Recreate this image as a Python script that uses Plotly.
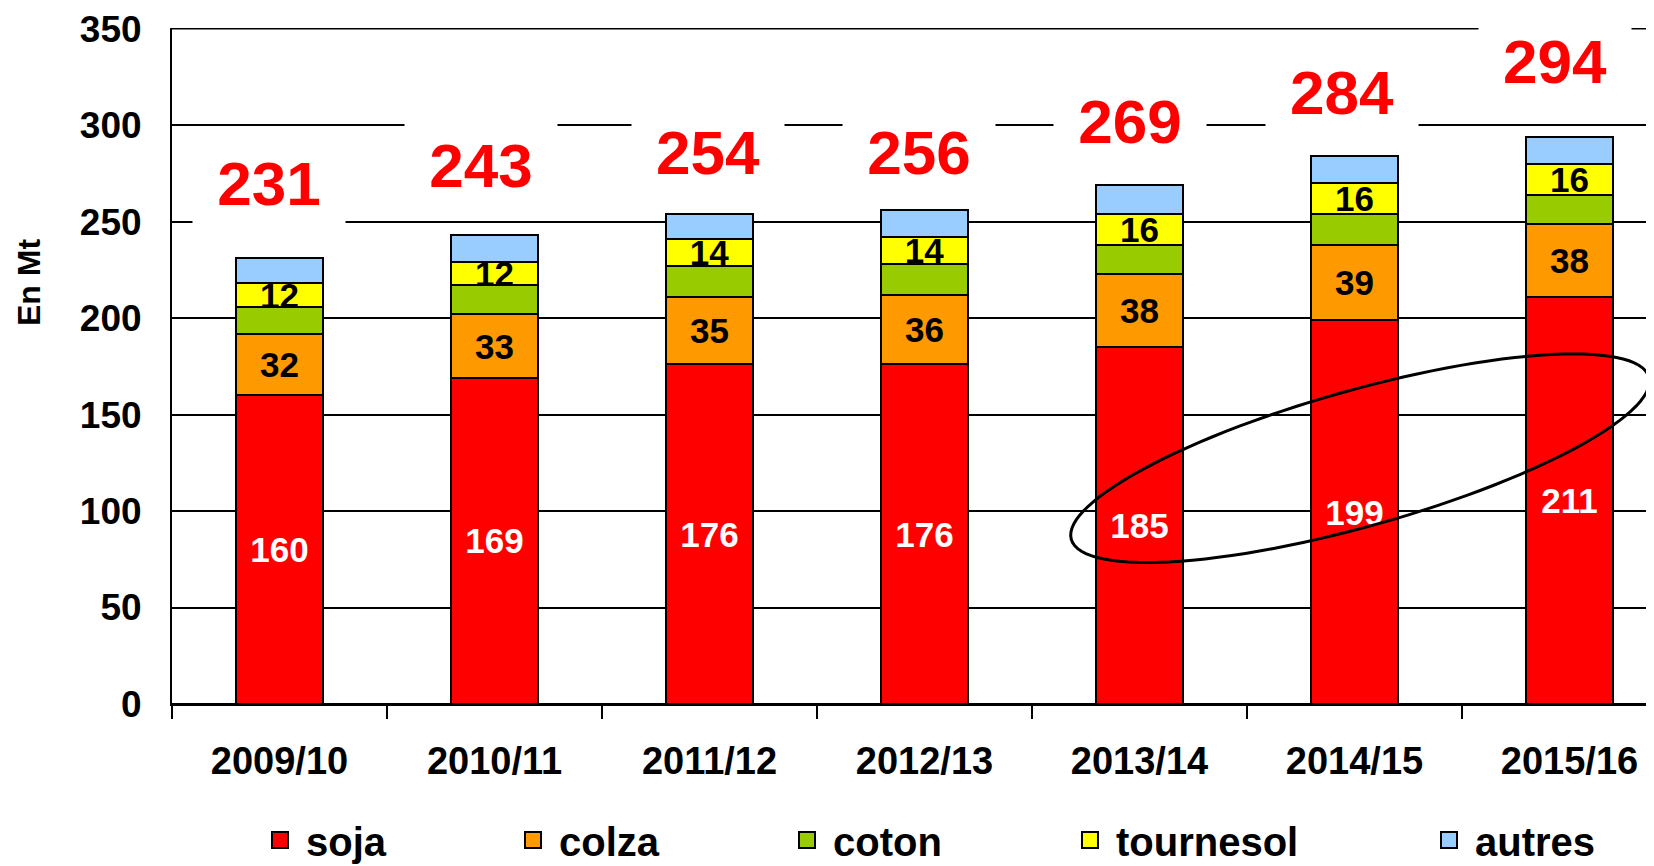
import math
import plotly.graph_objects as go

# ---------------- data ----------------
categories = ["2009/10", "2010/11", "2011/12", "2012/13", "2013/14", "2014/15", "2015/16"]
soja = [160, 169, 176, 176, 185, 199, 211]
colza = [32, 33, 35, 36, 38, 39, 38]
coton = [14, 15, 16, 16, 15, 16, 15]
tournesol = [12, 12, 14, 14, 16, 16, 16]
autres = [13, 14, 13, 14, 15, 14, 14]
totals = [231, 243, 254, 256, 269, 284, 294]
y_ticks = [0, 50, 100, 150, 200, 250, 300, 350]

series_names = ["soja", "colza", "coton", "tournesol", "autres"]

# ---------------- styles / layout positions ----------------
PAGE_OFF = 8                      # default page margin around the figure
WIN_W, WIN_H = 1654, 866
W, H = WIN_W - PAGE_OFF, WIN_H - PAGE_OFF
PLOT_LEFT_WIN, PLOT_TOP_WIN, PLOT_BOTTOM_WIN = 172, 28, 704
ML = PLOT_LEFT_WIN - PAGE_OFF
MT = PLOT_TOP_WIN - PAGE_OFF
MB = H - (PLOT_BOTTOM_WIN - PAGE_OFF)
MR = 0
PW, PH = W - ML - MR, H - MT - MB
BAND = 215.0
X_RANGE = [-0.5, -0.5 + PW / BAND]
Y_RANGE = [0, 350.4]

colors = {"soja": "#FF0000", "colza": "#FF9900", "coton": "#99CC00",
          "tournesol": "#FFFF00", "autres": "#99CCFF"}
FONT = "Liberation Sans, Arial, sans-serif"

# total labels: vertical lift (data units) and horizontal nudge (px)
total_lift = [39, 36, 32, 30, 33, 33, 39]
total_xshift = [-11, -14, -2, -6, -10, -13, -15]

# legend text start positions (window px)
legend_text_px = [306, 559, 833, 1116, 1475]
LEGEND_Y_PX = 840
LEGEND_ITEMWIDTH = 42
LEGEND_TEXT_OFFSET = 52


def px_to_paper_x(px):
    return (px - PLOT_LEFT_WIN) / PW


def px_to_paper_y(py):
    return (PLOT_BOTTOM_WIN - py) / PH


fig = go.Figure()

series_values = [soja, colza, coton, tournesol, autres]
labelled = {"soja": "white", "colza": "black", "tournesol": "black"}
for name, vals in zip(series_names, series_values):
    kw = {}
    if name in labelled:
        kw = dict(text=vals, texttemplate="%{text}", textposition="inside",
                  insidetextanchor="middle", constraintext="none", textangle=0,
                  textfont=dict(family=FONT, size=35, color=labelled[name], weight="bold"))
    fig.add_trace(go.Bar(
        x=categories, y=vals, name=name, showlegend=False,
        marker=dict(color=colors[name], line=dict(color="black", width=2)),
        hoverinfo="skip", **kw))

# legend entries (one legend per entry so they can be spaced like the original)
for i, name in enumerate(series_names):
    lg = "legend" if i == 0 else f"legend{i + 1}"
    fig.add_trace(go.Scatter(
        x=[None], y=[None], mode="markers", name=name, legend=lg, showlegend=True,
        marker=dict(symbol="square", size=16, color=colors[name],
                    line=dict(color="black", width=2))))

legend_layouts = {}
for i, name in enumerate(series_names):
    key = "legend" if i == 0 else f"legend{i + 1}"
    legend_layouts[key] = dict(
        x=px_to_paper_x(legend_text_px[i] - LEGEND_TEXT_OFFSET), xanchor="left",
        y=px_to_paper_y(LEGEND_Y_PX), yanchor="middle",
        orientation="h", bgcolor="rgba(0,0,0,0)", borderwidth=0,
        font=dict(family=FONT, size=40, color="black", weight="bold"),
        itemwidth=LEGEND_ITEMWIDTH)

# total labels
annotations = []
for i, cat in enumerate(categories):
    annotations.append(dict(
        x=cat, y=totals[i] + total_lift[i], xref="x", yref="y",
        text=str(totals[i]), showarrow=False, xshift=total_xshift[i],
        font=dict(family=FONT, size=62, color="#FF0000", weight="bold"),
        bgcolor="white", width=132, borderpad=10))

# y-axis title
annotations.append(dict(
    x=px_to_paper_x(29), y=px_to_paper_y(283), xref="paper", yref="paper",
    xanchor="center", yanchor="middle",
    text="En Mt", textangle=-90, showarrow=False,
    font=dict(family=FONT, size=32, color="black", weight="bold")))

# highlight ellipse around the soja values of the last three seasons
ell_cx_data, ell_cy_data = 5.026, 127.4
ell_a, ell_b, ell_tilt = 300.0, 68.0, math.radians(15.7)
cx_px = PLOT_LEFT_WIN + (ell_cx_data - X_RANGE[0]) * BAND
cy_px = PLOT_BOTTOM_WIN - (ell_cy_data - Y_RANGE[0]) / (Y_RANGE[1] - Y_RANGE[0]) * PH
pts = []
for k in range(121):
    t = 2 * math.pi * k / 120
    dx = ell_a * math.cos(t) * math.cos(ell_tilt) - ell_b * math.sin(t) * math.sin(ell_tilt)
    dy = -(ell_a * math.cos(t) * math.sin(ell_tilt) + ell_b * math.sin(t) * math.cos(ell_tilt))
    pts.append((px_to_paper_x(cx_px + dx), px_to_paper_y(cy_px + dy)))
path = "M " + " L ".join(f"{x:.5f},{y:.5f}" for x, y in pts) + " Z"

shapes = [
    # top border of the plot frame
    dict(type="line", xref="paper", yref="y", x0=0, x1=1, y0=y_ticks[-1], y1=y_ticks[-1],
         line=dict(color="black", width=1.5), layer="below"),
    dict(type="path", path=path, xref="paper", yref="paper",
         line=dict(color="black", width=3), fillcolor="rgba(0,0,0,0)", layer="above"),
]

fig.update_layout(
    width=W, height=H,
    margin=dict(l=ML, r=MR, t=MT, b=MB, pad=0, autoexpand=False),
    paper_bgcolor="white", plot_bgcolor="white",
    barmode="stack", bargap=0.592,
    font=dict(family=FONT, color="black"),
    annotations=annotations,
    shapes=shapes,
    **legend_layouts,
)

fig.update_xaxes(
    type="category", range=X_RANGE, tickson="boundaries", automargin=False,
    ticks="outside", ticklen=13, tickwidth=2, tickcolor="black",
    showline=True, linecolor="black", linewidth=2, showgrid=False,
    tickfont=dict(family=FONT, size=38, color="black", weight="bold"),
    ticklabelstandoff=22)

fig.update_yaxes(
    range=Y_RANGE, tickvals=y_ticks, ticktext=[str(v) for v in y_ticks],
    automargin=False,
    showgrid=True, gridcolor="black", gridwidth=1.5,
    showline=True, linecolor="black", linewidth=2,
    zeroline=True, zerolinecolor="black", zerolinewidth=2,
    ticks="", ticklabelstandoff=21,
    tickfont=dict(family=FONT, size=37, color="black", weight="bold"))

fig.write_html("out.html")
